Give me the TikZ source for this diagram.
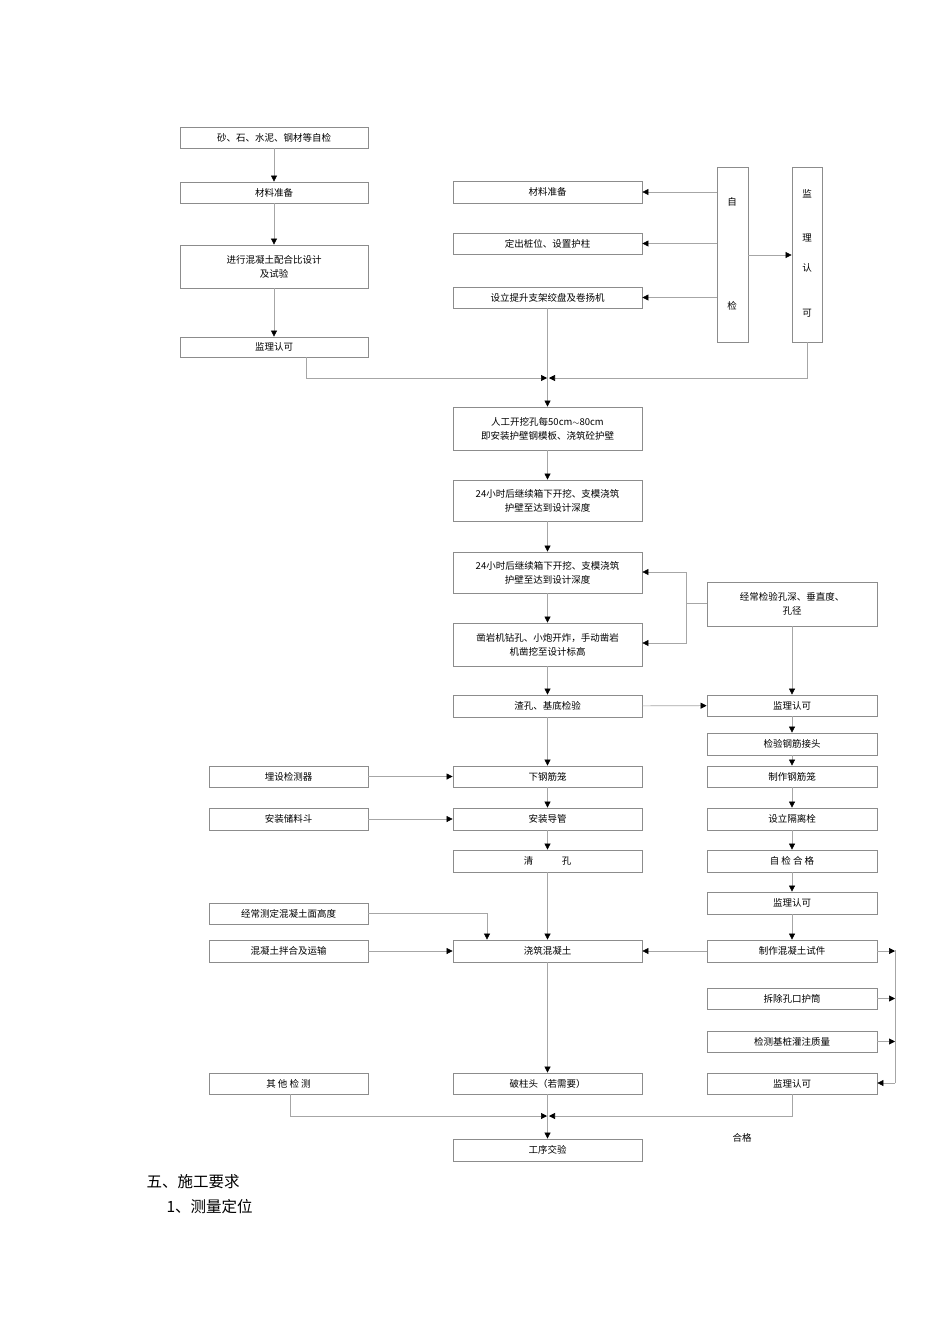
\documentclass[tikz,border=0pt]{standalone}
\usepackage{fontspec}
\setmainfont{Noto Sans CJK SC}
\usetikzlibrary{arrows.meta,calc}
\tikzset{box/.style={draw=black!45,line width=0.8pt,align=center,inner sep=1pt,font=\fontsize{9.5}{14}\selectfont},
ln/.style={draw=black!35,line width=0.6pt},
arr/.style={ln,-{Triangle[black,length=6pt,width=6pt]}}}
\newcommand\mybox[6]{\node[box,minimum width={#4-#2},minimum height={#5-#3}] (#1) at ({(#2+#4)/2},{(#3+#5)/2}) {#6};}
\begin{document}
\begin{tikzpicture}[x=1pt,y=-1pt]
\useasboundingbox[fill=white] (0,0) rectangle (950,1344);
\mybox{A1}{180}{127}{368}{148}{砂、石、水泥、钢材等自检}
\mybox{A2}{180}{182}{368}{203}{材料准备}
\mybox{A3}{180}{245}{368}{288}{进行混凝土配合比设计\\及试验}
\mybox{A4}{180}{337}{368}{357}{监理认可}
\mybox{B1}{453}{181}{642}{203}{材料准备}
\mybox{B2}{453}{233}{642}{254}{定出桩位、设置护柱}
\mybox{B3}{453}{287}{642}{308}{设立提升支架绞盘及卷扬机}
\mybox{ZJ}{717}{167}{748}{342}{}
\node[font=\fontsize{9.5}{14}\selectfont] at (732,202) {自};
\node[font=\fontsize{9.5}{14}\selectfont] at (732,306) {检};
\mybox{JL}{792}{167}{822}{342}{}
\foreach \t/\y in {监/194,理/238,认/268,可/313}
  \node[font=\fontsize{9.5}{14}\selectfont] at (807,\y) {\t};
\mybox{C1}{453}{407}{642}{450}{人工开挖孔每50cm$\sim$80cm\\即安装护壁钢模板、浇筑砼护壁}
\mybox{C2}{453}{480}{642}{521}{24小时后继续箱下开挖、支模浇筑\\护壁至达到设计深度}
\mybox{C3}{453}{552}{642}{593}{24小时后继续箱下开挖、支模浇筑\\护壁至达到设计深度}
\mybox{C4}{453}{623}{642}{666}{凿岩机钻孔、小炮开炸，手动凿岩\\机凿挖至设计标高}
\mybox{C5}{453}{695}{642}{717}{渣孔、基底检验}
\mybox{C6}{453}{766}{642}{787}{下钢筋笼}
\mybox{C7}{453}{808}{642}{830}{安装导管}
\mybox{C8}{453}{850}{642}{872}{清\hspace{3em}孔}
\mybox{C9}{453}{940}{642}{962}{浇筑混凝土}
\mybox{C10}{453}{1073}{642}{1094}{破柱头（若需要）}
\mybox{C11}{453}{1139}{642}{1161}{工序交验}
\mybox{D1}{707}{582}{877}{626}{经常检验孔深、垂直度、\\孔径}
\mybox{D2}{707}{695}{877}{716}{监理认可}
\mybox{D3}{707}{733}{877}{755}{检验钢筋接头}
\mybox{D4}{707}{766}{877}{787}{制作钢筋笼}
\mybox{D5}{707}{808}{877}{830}{设立隔离栓}
\mybox{D6}{707}{850}{877}{872}{自\ 检\ 合\ 格}
\mybox{D7}{707}{892}{877}{914}{监理认可}
\mybox{D8}{707}{940}{877}{962}{制作混凝土试件}
\mybox{D9}{707}{988}{877}{1009}{拆除孔口护筒}
\mybox{D10}{707}{1031}{877}{1052}{检测基桩灌注质量}
\mybox{D11}{707}{1073}{877}{1094}{监理认可}
\mybox{E1}{209}{766}{368}{787}{埋设检测器}
\mybox{E2}{209}{808}{368}{830}{安装储料斗}
\mybox{E3}{209}{903}{368}{924}{经常测定混凝土面高度}
\mybox{E4}{209}{940}{368}{962}{混凝土拌合及运输}
\mybox{E5}{209}{1073}{368}{1094}{其\ 他\ 检\ 测}
\node[font=\fontsize{9.5}{14}\selectfont] (HG) at (742,1138) {合格};
\node[anchor=west,font=\fontsize{15.5}{18}\selectfont] (T1) at (143,1182) {五、施工要求};
\node[anchor=west,font=\fontsize{15.5}{18}\selectfont] (T2) at (163,1207) {1、测量定位};
% left column
\draw[arr] (A1) -- (A2);
\draw[arr] (A2) -- (A3);
\draw[arr] (A3) -- (A4);
% self check
\foreach \b in {B1,B2,B3} \draw[arr] (ZJ.west |- \b.east) -- (\b.east);
\draw[arr] (ZJ.east |- 0,255) -- (JL.west |- 0,255);
\coordinate (M1) at (548,378);
\draw[arr] (A4.south -| 306,0) |- ($(M1)+(-1,0)$);
\draw[arr] (JL.south) |- ($(M1)+(1,0)$);
\draw[arr] (B3) -- (C1);
\draw[arr] (C1) -- (C2);
\draw[arr] (C2) -- (C3);
\draw[arr] (C3) -- (C4);
\draw[arr] (C4) -- (C5);
\coordinate (K1) at (686,603);
\draw[ln] (D1.west |- K1) -- (K1);
\draw[arr] (K1) |- (C3.east |- 0,572);
\draw[arr] (K1) |- (C4.east |- 0,643);
\draw[arr] (D1) -- (D2);
\draw[arr] (C5) -- (D2);
\draw[arr] (D2) -- (D3);
\draw[arr] (D3) -- (D4);
\draw[arr] (D4) -- (D5);
\draw[arr] (D5) -- (D6);
\draw[arr] (D6) -- (D7);
\draw[arr] (D7) -- (D8);
\draw[arr] (C5) -- (C6);
\draw[arr] (C6) -- (C7);
\draw[arr] (C7) -- (C8);
\draw[arr] (C8) -- (C9);
\draw[arr] (E1) -- (C6);
\draw[arr] (E2) -- (C7);
\draw[arr] (E3.east) -| (C9.north -| 487,0);
\draw[arr] (E4) -- (C9);
\draw[arr] (D8) -- (C9);
\coordinate (R1) at (895,950);
\foreach \b in {D8,D9,D10} \draw[arr] (\b.east) -- (R1 |- \b.east);
\draw[ln] (R1) -- (R1 |- 0,1083);
\draw[arr] (R1 |- 0,1083) -- (D11.east |- 0,1083);
\draw[arr] (C9) -- (C10);
\coordinate (M2) at (548,1116);
\draw[arr] (E5.south -| 290,0) |- ($(M2)+(-1,0)$);
\draw[arr] (D11.south -| 792,0) |- ($(M2)+(1,0)$);
\draw[arr] (C10) -- (C11);
\end{tikzpicture}
\end{document}
